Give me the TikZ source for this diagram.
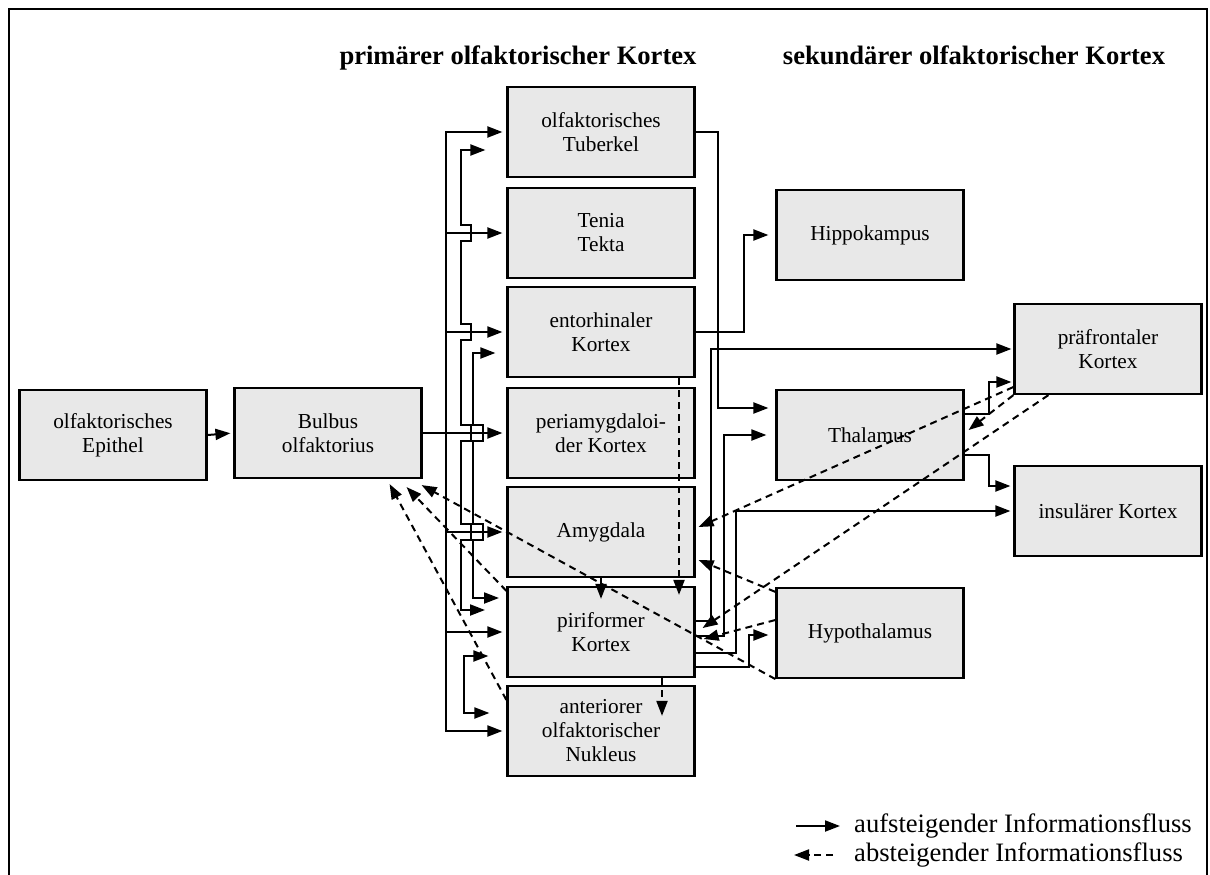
\documentclass[tikz,border=0pt]{standalone}
\usepackage{fontspec}
\setmainfont{Liberation Serif}
\usetikzlibrary{calc,arrows.meta}

\begin{document}
\begin{tikzpicture}[x=1pt,y=-1pt]
\pgfmathsetmacro{\xPri}{601}
\pgfmathsetmacro{\xSek}{870}
\pgfmathsetmacro{\xFar}{1108}

\tikzstyle{box}=[draw, line width=2.2pt, fill=black!9, minimum width=187pt, minimum height=90pt, inner sep=0pt, align=center, font=\fontsize{21.3}{24}\selectfont]
\tikzstyle{up}=[line width=2pt, -{Triangle[length=15pt,width=11pt]}]
\tikzstyle{both}=[line width=2pt, {Triangle[length=15pt,width=11pt]}-{Triangle[length=15pt,width=11pt]}]
\tikzstyle{down}=[up, dash pattern=on 7pt off 5pt]
\tikzstyle{head}=[font=\fontsize{26.6}{30}\selectfont\bfseries, anchor=base, inner sep=0pt]
\tikzstyle{legend}=[font=\fontsize{26.6}{30}\selectfont, anchor=west, inner sep=0pt]

\useasboundingbox (0,0) rectangle (1210,875);
\draw[line width=2.2pt] (9,876) -- (9,9) -- (1207,9) -- (1207,876);

\node[head] (hpri) at (518,65) {primärer olfaktorischer Kortex};
\node[head] (hsek) at (974,65) {sekundärer olfaktorischer Kortex};

\node[box] (epi) at (113,435) {olfaktorisches\\Epithel};
\node[box] (bulb) at (328,433) {Bulbus\\olfaktorius};
\node[box] (tub) at (\xPri,132) {olfaktorisches\\Tuberkel};
\node[box] (ten) at (\xPri,233) {Tenia\\Tekta};
\node[box] (ent) at (\xPri,332) {entorhinaler\\Kortex};
\node[box] (peri) at (\xPri,433) {periamygdaloi-\\der Kortex};
\node[box] (amy) at (\xPri,532) {Amygdala};
\node[box] (piri) at (\xPri,632) {piriformer\\Kortex};
\node[box] (aon) at (\xPri,731) {anteriorer\\olfaktorischer\\Nukleus};
\node[box] (hip) at (\xSek,235) {Hippokampus};
\node[box] (thal) at (\xSek,435) {Thalamus};
\node[box] (hyp) at (\xSek,633) {Hypothalamus};
\node[box] (pfc) at (\xFar,349) {präfrontaler\\Kortex};
\node[box] (ins) at (\xFar,511) {insulärer Kortex};

\coordinate (busA) at (446,0);
\coordinate (busB) at (461,0);
\coordinate (busC) at (473,0);

% bulbus to primary cortex
\draw[up, shorten >=3pt] (epi.east) -- (bulb.west);
\draw[up, shorten >=4pt] (bulb.east) -- (peri.west);
\draw[up, shorten >=4pt] (busA |- aon.west) -- (busA |- tub.west) -- (tub.west);
\foreach \n in {ten,ent,amy,piri}
  \draw[up, shorten >=4pt] (busA |- \n.west) -- (\n.west);
\draw[up, shorten >=4pt] (busA |- piri.west) -- (busA |- aon.west) -- (aon.west);

% links inside primary cortex
\draw[both] ($(tub.west)+(-21,18)$) -- ($(busB |- tub.west)+(0,18)$)
  \foreach \n in {ten,ent,peri,amy} { -- ($(busB |- \n.west)+(0,-8)$) -- ++(10,0) -- ++(0,16) -- ++(-10,0) }
  -- ($(busB |- piri.west)+(0,-22)$) -- ++(24,0);
\draw[both] ($(ent.west)+(-11,21)$) -- ($(busC |- ent.west)+(0,21)$)
  \foreach \n in {peri,amy} { -- ($(busC |- \n.west)+(0,-8)$) -- ++(10,0) -- ++(0,16) -- ++(-10,0) }
  -- ($(busC |- piri.west)+(0,-34)$) -- ++(26,0);
\draw[both] ($(piri.west)+(-18,24)$) -- ++(-24,0) |- ($(aon.west)+(-17,-18)$);

% to secondary cortex
\draw[up, shorten >=7pt] (tub.east) -- ++(22,0) |- ($(thal.west)+(0,-27)$);
\draw[up, shorten >=7pt] (ent.east) -- ++(48,0) |- (hip.west);
\draw[up, shorten >=2pt] ($(piri.east)+(0,-11)$) -- ++(15,0) |- (pfc.west);
\draw[up, shorten >=9pt] ($(piri.east)+(0,4)$) -- ++(28,0) |- (thal.west);
\draw[up, shorten >=3pt] ($(piri.east)+(0,21)$) -- ++(40,0) |- (ins.west);
\draw[up, shorten >=7pt] ($(piri.east)+(0,35)$) -- ++(53,0) |- ($(hyp.west)+(0,2)$);
\draw[up, shorten >=2pt] ($(thal.east)+(0,-21)$) -- ++(24,0) |- ($(pfc.west)+(0,33)$);
\draw[up, shorten >=3pt] ($(thal.east)+(0,20)$) -- ++(24,0) |- ($(ins.west)+(0,-25)$);

% descending
\draw[down] ($(ent.south)+(78,0)$) -- ($(piri.north)+(78,9)$);
\draw[down] (amy.south) -- ($(piri.north)+(0,13)$);
\draw[down] ($(piri.south)+(61,0)$) -- ($(aon.north)+(61,31)$);
\draw[down] (pfc.south west) -- ($(thal.east)+(4,-5)$);
\draw[down] ($(pfc.west)+(0,38)$) -- ($(amy.east)+(3,-5)$);
\draw[down] ($(pfc.south west)+(35,0)$) -- ($(piri.east)+(7,-4)$);
\draw[down] ($(hyp.west)+(0,-13)$) -- ($(piri.east)+(8,7)$);
\draw[down] ($(hyp.north west)+(0,5)$) -- ($(amy.east)+(3,28)$);
\draw[down] (hyp.south west) -- ($(bulb.south east)+(-1,6)$);
\draw[down] ($(piri.north west)+(0,5)$) -- ($(bulb.south east)+(-16,8)$);
\draw[down] ($(aon.west)+(0,-31)$) -- ($(bulb.south east)+(-33,5)$);

% legend
\node[legend] (lgup) at (854,826) {aufsteigender Informationsfluss};
\node[legend] (lgdown) at (854,855) {absteigender Informationsfluss};
\draw[up] ($(lgup.west)+(-58,0)$) -- ($(lgup.west)+(-14,0)$);
\draw[down] ($(lgdown.west)+(-21,0)$) -- ($(lgdown.west)+(-60,0)$);
\end{tikzpicture}
\end{document}
